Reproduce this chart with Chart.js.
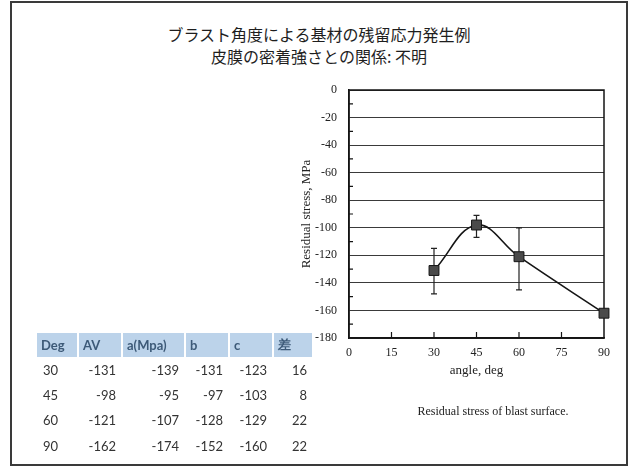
<!DOCTYPE html>
<html>
<head>
<meta charset="utf-8">
<script src="https://cdn.jsdelivr.net/npm/chart.js@4"></script>
<style>
  html, body { margin: 0; padding: 0; background: #fff; }
  #wrap { position: relative; width: 630px; height: 467px; overflow: hidden; background: #fff; }
  #frame { position: absolute; left: 10px; top: 1px; width: 618px; height: 465px;
           border: 2px solid #3a3a3a; box-sizing: border-box; }
  .title { position: absolute; left: 10px; width: 618px; text-align: center;
           font-family: "Noto Sans CJK JP", sans-serif; font-size: 16px; color: #1e1e1e; line-height: 20px; }
  #caption { position: absolute; left: 380px; width: 226px; top: 404px; text-align: center;
             font-family: "Liberation Serif", serif; font-size: 12px; color: #222; }
  #chart { position: absolute; left: 0; top: 0; }
  table { position: absolute; left: 35px; top: 333px; border-collapse: separate; border-spacing: 2px 0;
          font-family: Lato, "Noto Sans", sans-serif; font-size: 13px; color: #333; }
  th { background: #bcd3ea; color: #3d5a78; font-weight: bold; text-align: left; height: 24px;
       padding: 0 4px; box-sizing: border-box; }
  td { height: 25.3px; padding: 0 5px 0 4px; text-align: right; box-sizing: border-box; }
  td:first-child { text-align: left; padding-left: 6px; }
</style>
</head>
<body>
<div id="wrap">
  <div id="frame"></div>
  <div class="title" style="top:24px;">ブラスト角度による基材の残留応力発生例</div>
  <div class="title" style="top:46px;">皮膜の密着強さとの関係: 不明</div>
  <canvas id="chart" width="630" height="467"></canvas>
  <table id="tbl"></table>
  <div id="caption">Residual stress of blast surface.</div>
</div>
<script>
// Blast angle (deg) and measured residual stress (MPa)
const angles = [30, 45, 60, 90];
const stressAV = [-131, -98, -121, -162];
const stressA = [-139, -95, -107, -174];
const stressB = [-131, -97, -128, -152];
const stressC = [-123, -103, -129, -160];
const spread = [16, 8, 22, 22];
// Scatter band shown as error bars on the plot
const errHigh = [-115, -91, -100, null];
const errLow = [-148, -107, -145, null];
const tableHead = ['Deg', 'AV', 'a(Mpa)', 'b', 'c', '差'];
const colWidths = [40, 42, 61, 42, 42, 38];

// Summary table
const tbl = document.getElementById('tbl');
const hr = document.createElement('tr');
tableHead.forEach((h, i) => {
  const th = document.createElement('th');
  th.textContent = h;
  th.style.width = colWidths[i] + 'px';
  hr.appendChild(th);
});
tbl.appendChild(hr);
angles.forEach((a, i) => {
  const tr = document.createElement('tr');
  [a, stressAV[i], stressA[i], stressB[i], stressC[i], spread[i]].forEach(v => {
    const td = document.createElement('td');
    td.textContent = String(v);
    tr.appendChild(td);
  });
  tbl.appendChild(tr);
});

const serif = 'Liberation Serif';

// Plot frame, inner tick marks and error bars
const plotExtras = {
  id: 'plotExtras',
  beforeDatasetsDraw(chart) {
    const { ctx, chartArea: ca, scales: { x, y } } = chart;
    ctx.save();
    ctx.strokeStyle = '#151515';
    ctx.lineWidth = 1.5;
    ctx.strokeRect(ca.left, ca.top, ca.right - ca.left, ca.bottom - ca.top);
    ctx.lineWidth = 1.2;
    ctx.beginPath();
    for (let v = -10; v > -180; v -= 20) {
      const py = y.getPixelForValue(v);
      ctx.moveTo(ca.left, py);
      ctx.lineTo(ca.left + 4, py);
    }
    for (let v = 15; v < 90; v += 15) {
      const px = x.getPixelForValue(v);
      ctx.moveTo(px, ca.bottom);
      ctx.lineTo(px, ca.bottom - 6);
    }
    ctx.stroke();
    ctx.strokeStyle = '#222';
    ctx.lineWidth = 1.2;
    ctx.beginPath();
    angles.forEach((a, i) => {
      if (errHigh[i] === null) return;
      const px = x.getPixelForValue(a);
      const y1 = y.getPixelForValue(errHigh[i]);
      const y2 = y.getPixelForValue(errLow[i]);
      ctx.moveTo(px, y1); ctx.lineTo(px, y2);
      ctx.moveTo(px - 3, y1); ctx.lineTo(px + 3, y1);
      ctx.moveTo(px - 3, y2); ctx.lineTo(px + 3, y2);
    });
    ctx.stroke();
    ctx.restore();
  }
};

new Chart(document.getElementById('chart'), {
  type: 'line',
  data: {
    datasets: [{
      data: angles.map((a, i) => ({ x: a, y: stressAV[i] })),
      borderColor: '#151515',
      borderWidth: 1.6,
      tension: 0.4,
      clip: false,
      pointStyle: 'rect',
      pointRadius: 7,
      pointBackgroundColor: '#4a4a4a',
      pointBorderColor: '#151515',
      pointBorderWidth: 1
    }]
  },
  options: {
    responsive: false,
    animation: false,
    layout: { padding: { left: 289, top: 90, right: 26, bottom: 84 } },
    plugins: { legend: { display: false }, tooltip: { enabled: false } },
    scales: {
      x: {
        type: 'linear', min: 0, max: 90,
        afterFit: s => { s.height = 45; },
        ticks: { stepSize: 15, padding: 8, color: '#222', font: { family: serif, size: 12 } },
        grid: { display: false, drawTicks: false },
        border: { display: true, color: '#151515', width: 1.5 },
        title: { display: true, text: 'angle, deg', color: '#222',
                 font: { family: serif, size: 13 }, padding: { top: 0, bottom: 5 } }
      },
      y: {
        type: 'linear', min: -180, max: 0,
        afterFit: s => { s.width = 60; },
        ticks: { stepSize: 20, padding: 12, color: '#222', font: { family: serif, size: 12 } },
        grid: { color: '#3a3a3a', lineWidth: 1, drawTicks: false },
        border: { display: true, color: '#151515', width: 1.5 },
        title: { display: true, text: 'Residual stress, MPa', color: '#222',
                 font: { family: serif, size: 13 }, padding: { top: 10, bottom: 0 } }
      }
    }
  },
  plugins: [plotExtras]
});
</script>
</body>
</html>
